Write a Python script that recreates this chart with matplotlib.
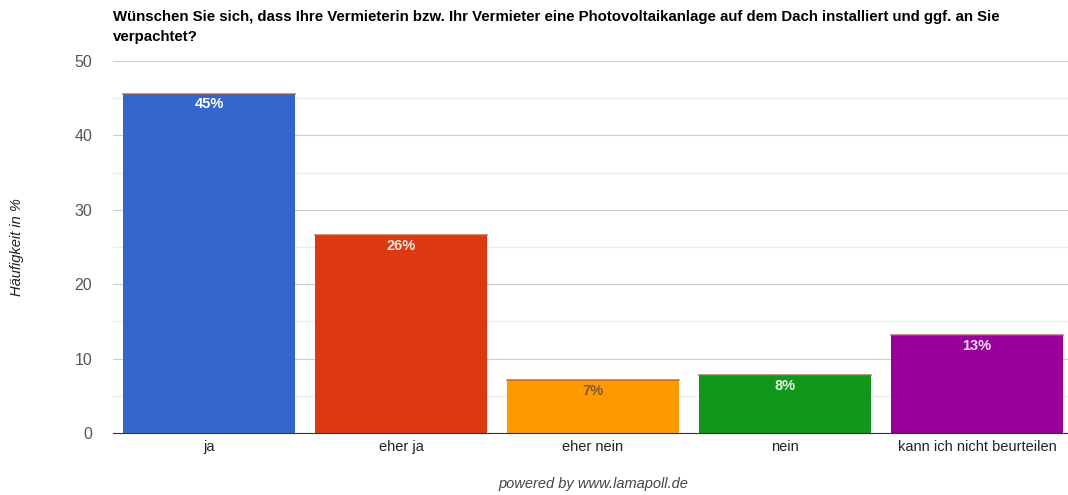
import matplotlib
matplotlib.use("Agg")
import matplotlib.pyplot as plt
from matplotlib.ticker import MultipleLocator

categories = ["ja", "eher ja", "eher nein", "nein", "kann ich nicht beurteilen"]
values = [45.6, 26.6, 7.1, 7.8, 13.2]
labels = ["45%", "26%", "7%", "8%", "13%"]
colors = ["#3366cc", "#dc3912", "#ff9900", "#109618", "#990099"]
label_colors = ["white", "#f5e6e0", "#7a5a3a", "#e8f5e0", "#f5e0f5"]
title = ("Wünschen Sie sich, dass Ihre Vermieterin bzw. Ihr Vermieter eine Photovoltaikanlage auf dem Dach installiert und ggf. an Sie\n"
         "verpachtet?")

plt.rcParams['font.family'] = ['Liberation Sans', 'DejaVu Sans']
fig = plt.figure(figsize=(10.68, 4.95), dpi=100)
W, H = 1068, 495
ax = fig.add_axes([113 / W, (H - 433) / H, (1068 - 113) / W, (433 - 61) / H])

x = list(range(len(categories)))
bars = ax.bar(x, values, width=0.896, color=colors, zorder=3, edgecolor="none")
for xi, v in zip(x, values):
    ax.plot([xi - 0.448, xi + 0.448], [v, v], color="#a06050", lw=1.2, zorder=4, alpha=0.8)
for xi, v, lab, lc in zip(x, values, labels, label_colors):
    ax.text(xi, v - 0.5, lab, ha="center", va="top", fontsize=10.5, fontweight="bold",
            color=lc, zorder=5)

ax.set_xlim(-0.5, (1068 - 209) / 192 - 0.0)
ax.set_ylim(0, 50)
ax.yaxis.set_major_locator(MultipleLocator(10))
ax.yaxis.set_minor_locator(MultipleLocator(5))
ax.grid(axis="y", which="major", color="#cccccc", lw=0.8, zorder=0)
ax.grid(axis="y", which="minor", color="#ebebeb", lw=0.8, zorder=0)
for s in ["top", "right", "left"]:
    ax.spines[s].set_visible(False)
ax.spines["bottom"].set_color("#333333")
ax.spines["bottom"].set_zorder(6)
ax.tick_params(axis="y", which="both", length=0, labelsize=11.5, labelcolor="#555555", pad=15)
ax.tick_params(axis="x", length=0, labelsize=10.5, labelcolor="#222222", pad=5)
ax.set_xticks(x)
ax.set_xticklabels(categories)

fig.text(17 / W, 1 - 247 / H, "Häufigkeit in %", rotation=90, ha="center", va="center",
         fontsize=10.5, style="italic", color="#222222")
fig.text(113 / W, 1 - 10 / H, title, ha="left", va="top", fontsize=10.8, fontweight="bold",
         color="#000000", linespacing=1.55)
fig.text(593 / W, 1 - 484 / H, "powered by www.lamapoll.de", ha="center", va="center",
         fontsize=10.5, style="italic", color="#444444")

fig.savefig("out.png", dpi=100)
